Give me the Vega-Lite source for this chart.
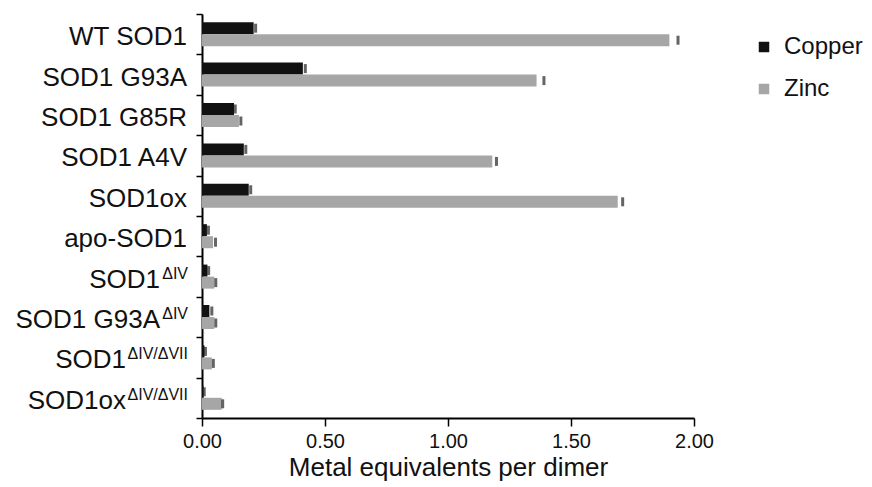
{
  "$schema": "https://vega.github.io/schema/vega-lite/v6.json",
  "width": 492,
  "height": 404,
  "autosize": {"type": "none"},
  "padding": {"left": 202, "top": 14, "right": 178, "bottom": 69},
  "background": "white",
  "config": {
    "view": {"stroke": null},
    "font": "Liberation Sans",
    "text": {"font": "Liberation Sans", "color": "#111"},
    "axis": {"ticks": true, "tickColor": "black", "tickOpacity": 1, "tickWidth": 1.5},
    "axisQuantitative": {"ticks": true, "tickSize": 8, "tickColor": "black", "tickOpacity": 1, "tickWidth": 1.5},
    "axisXQuantitative": {"ticks": true, "tickSize": 8, "tickColor": "black", "tickOpacity": 1, "tickWidth": 1.5},
    "axisX": {
      "ticks": true,
      "tickSize": 8,
      "labelOverlap": false,
      "labelFlush": false,
      "grid": false,
      "domainColor": "black",
      "domainWidth": 2,
      "tickColor": "black",
      "tickWidth": 1.5,
      "tickOpacity": 1,
      "labelFont": "Liberation Sans",
      "labelFontSize": 20,
      "labelColor": "#111",
      "labelPadding": 5,
      "titleFont": "Liberation Sans",
      "titleFontSize": 26,
      "titleFontWeight": "normal",
      "titleColor": "#111",
      "titlePadding": 3
    },
    "axisY": {
      "ticks": true,
      "tickSize": 6,
      "tickColor": "black",
      "tickWidth": 1.5,
      "tickOpacity": 1,
      "domainColor": "black",
      "domainWidth": 2,
      "grid": false
    }
  },
  "datasets": {
    "metals": [
      {"sample": "WT SOD1", "metal": "Copper", "value": 0.21, "err": 0.008},
      {"sample": "WT SOD1", "metal": "Zinc", "value": 1.90, "err": 0.035},
      {"sample": "SOD1 G93A", "metal": "Copper", "value": 0.41, "err": 0.01},
      {"sample": "SOD1 G93A", "metal": "Zinc", "value": 1.36, "err": 0.03},
      {"sample": "SOD1 G85R", "metal": "Copper", "value": 0.13, "err": 0.005},
      {"sample": "SOD1 G85R", "metal": "Zinc", "value": 0.15, "err": 0.008},
      {"sample": "SOD1 A4V", "metal": "Copper", "value": 0.17, "err": 0.008},
      {"sample": "SOD1 A4V", "metal": "Zinc", "value": 1.18, "err": 0.017},
      {"sample": "SOD1ox", "metal": "Copper", "value": 0.19, "err": 0.008},
      {"sample": "SOD1ox", "metal": "Zinc", "value": 1.69, "err": 0.02},
      {"sample": "apo-SOD1", "metal": "Copper", "value": 0.02, "err": 0.006},
      {"sample": "apo-SOD1", "metal": "Zinc", "value": 0.045, "err": 0.01},
      {"sample": "SOD1ΔIV", "metal": "Copper", "value": 0.022, "err": 0.005},
      {"sample": "SOD1ΔIV", "metal": "Zinc", "value": 0.05, "err": 0.006},
      {"sample": "SOD1 G93AΔIV", "metal": "Copper", "value": 0.03, "err": 0.01},
      {"sample": "SOD1 G93AΔIV", "metal": "Zinc", "value": 0.05, "err": 0.006},
      {"sample": "SOD1ΔIV/ΔVII", "metal": "Copper", "value": 0.01, "err": 0.004},
      {"sample": "SOD1ΔIV/ΔVII", "metal": "Zinc", "value": 0.04, "err": 0.006},
      {"sample": "SOD1oxΔIV/ΔVII", "metal": "Copper", "value": 0.006, "err": 0.003},
      {"sample": "SOD1oxΔIV/ΔVII", "metal": "Zinc", "value": 0.08, "err": 0.004}
    ],
    "labels": [
      {"sample": "WT SOD1", "base": "WT SOD1", "sup": "", "grp": 0},
      {"sample": "SOD1 G93A", "base": "SOD1 G93A", "sup": "", "grp": 0},
      {"sample": "SOD1 G85R", "base": "SOD1 G85R", "sup": "", "grp": 0},
      {"sample": "SOD1 A4V", "base": "SOD1 A4V", "sup": "", "grp": 0},
      {"sample": "SOD1ox", "base": "SOD1ox", "sup": "", "grp": 0},
      {"sample": "apo-SOD1", "base": "apo-SOD1", "sup": "", "grp": 0},
      {"sample": "SOD1ΔIV", "base": "SOD1", "sup": "ΔIV", "grp": 1},
      {"sample": "SOD1 G93AΔIV", "base": "SOD1 G93A", "sup": "ΔIV", "grp": 1},
      {"sample": "SOD1ΔIV/ΔVII", "base": "SOD1", "sup": "ΔIV/ΔVII", "grp": 2},
      {"sample": "SOD1oxΔIV/ΔVII", "base": "SOD1ox", "sup": "ΔIV/ΔVII", "grp": 2}
    ]
  },
  "encoding": {
    "y": {
      "field": "sample",
      "type": "nominal",
      "scale": {
        "domain": ["WT SOD1", "SOD1 G93A", "SOD1 G85R", "SOD1 A4V", "SOD1ox", "apo-SOD1", "SOD1ΔIV", "SOD1 G93AΔIV", "SOD1ΔIV/ΔVII", "SOD1oxΔIV/ΔVII"],
        "paddingInner": 0,
        "paddingOuter": 0
      },
      "axis": {
        "title": null,
        "labels": false,
        "ticks": true,
        "tickBand": "extent"
      }
    }
  },
  "layer": [
    {
      "data": {"name": "metals"},
      "mark": {"type": "bar"},
      "encoding": {
        "x": {
          "field": "value",
          "type": "quantitative",
          "scale": {"domain": [0, 2], "nice": false},
          "axis": {"title": "Metal equivalents per dimer", "values": [0, 0.5, 1.0, 1.5, 2.0], "format": ".2f", "ticks": true, "tickSize": 8, "tickColor": "black", "tickWidth": 1.5, "tickOpacity": 1}
        },
        "yOffset": {
          "field": "metal",
          "type": "nominal",
          "scale": {"domain": ["Copper", "Zinc"], "paddingInner": 0, "paddingOuter": 0.68}
        },
        "color": {
          "field": "metal",
          "type": "nominal",
          "scale": {"domain": ["Copper", "Zinc"], "range": ["#111111", "#a6a6a6"]},
          "legend": {
            "title": null,
            "orient": "none",
            "legendX": 550,
            "legendY": 21,
            "symbolType": "square",
            "symbolSize": 110,
            "symbolStrokeWidth": 0,
            "labelFont": "Liberation Sans",
            "labelFontSize": 24,
            "labelColor": "#111",
            "labelOffset": 8,
            "rowPadding": 18
          }
        }
      }
    },
    {
      "data": {"name": "metals"},
      "transform": [{"calculate": "datum.value + datum.err", "as": "hi"}],
      "mark": {"type": "tick", "orient": "vertical", "size": 9, "thickness": 3, "color": "#222"},
      "encoding": {
        "x": {
          "field": "hi",
          "type": "quantitative",
          "scale": {"domain": [0, 2], "nice": false},
          "axis": {"title": "Metal equivalents per dimer", "values": [0, 0.5, 1.0, 1.5, 2.0], "format": ".2f", "ticks": true, "tickSize": 8, "tickColor": "black", "tickWidth": 1.5, "tickOpacity": 1}
        },
        "yOffset": {"field": "metal", "type": "nominal"}
      }
    },
    {
      "data": {"name": "labels"},
      "transform": [{"filter": "datum.grp === 0"}],
      "mark": {"type": "text", "align": "right", "baseline": "middle", "dx": -15, "dy": 3, "fontSize": 26},
      "encoding": {
        "x": {"datum": 0, "type": "quantitative", "scale": {"domain": [0, 2], "nice": false},
          "axis": {"title": "Metal equivalents per dimer", "values": [0, 0.5, 1.0, 1.5, 2.0], "format": ".2f", "ticks": true, "tickSize": 8, "tickColor": "black", "tickWidth": 1.5, "tickOpacity": 1}},
        "text": {"field": "base"}
      }
    },
    {
      "data": {"name": "labels"},
      "transform": [{"filter": "datum.grp === 1"}],
      "mark": {"type": "text", "align": "right", "baseline": "middle", "dx": -42, "dy": 3, "fontSize": 26},
      "encoding": {
        "x": {"datum": 0, "type": "quantitative", "scale": {"domain": [0, 2], "nice": false},
          "axis": {"title": "Metal equivalents per dimer", "values": [0, 0.5, 1.0, 1.5, 2.0], "format": ".2f", "ticks": true, "tickSize": 8, "tickColor": "black", "tickWidth": 1.5, "tickOpacity": 1}},
        "text": {"field": "base"}
      }
    },
    {
      "data": {"name": "labels"},
      "transform": [{"filter": "datum.grp === 2"}],
      "mark": {"type": "text", "align": "right", "baseline": "middle", "dx": -76, "dy": 3, "fontSize": 26},
      "encoding": {
        "x": {"datum": 0, "type": "quantitative", "scale": {"domain": [0, 2], "nice": false},
          "axis": {"title": "Metal equivalents per dimer", "values": [0, 0.5, 1.0, 1.5, 2.0], "format": ".2f", "ticks": true, "tickSize": 8, "tickColor": "black", "tickWidth": 1.5, "tickOpacity": 1}},
        "text": {"field": "base"}
      }
    },
    {
      "data": {"name": "labels"},
      "transform": [{"filter": "datum.grp > 0"}],
      "mark": {"type": "text", "align": "right", "baseline": "middle", "dx": -14, "dy": -3, "fontSize": 16},
      "encoding": {
        "x": {"datum": 0, "type": "quantitative", "scale": {"domain": [0, 2], "nice": false},
          "axis": {"title": "Metal equivalents per dimer", "values": [0, 0.5, 1.0, 1.5, 2.0], "format": ".2f", "ticks": true, "tickSize": 8, "tickColor": "black", "tickWidth": 1.5, "tickOpacity": 1}},
        "text": {"field": "sup"}
      }
    }
  ]
}
